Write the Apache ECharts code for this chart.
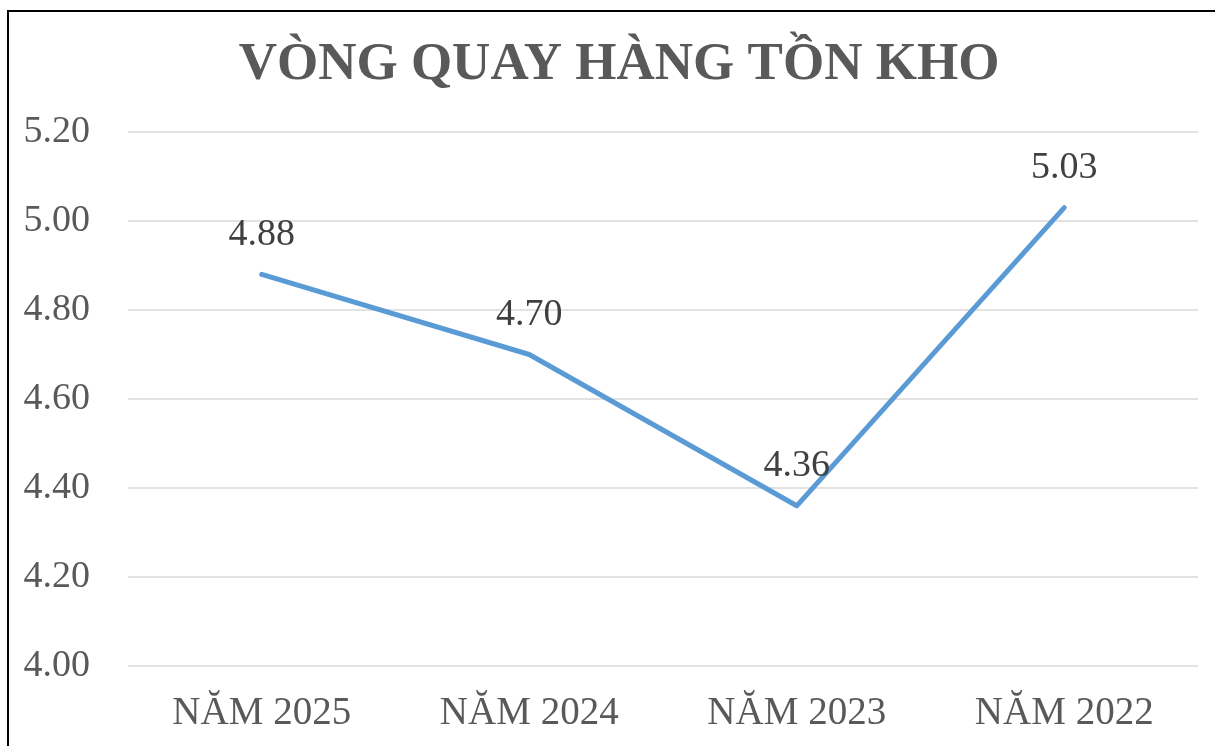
<!DOCTYPE html>
<html>
<head>
<meta charset="utf-8">
<script src="https://cdn.jsdelivr.net/npm/echarts@6/dist/echarts.min.js"></script>
<style>
  html, body { margin: 0; padding: 0; background: #fff; }
  #chart { width: 1215px; height: 746px; }
</style>
</head>
<body>
<div id="chart"></div>
<script>
var titleText = 'VÒNG QUAY HÀNG TỒN KHO';
var categories = ['NĂM 2025', 'NĂM 2024', 'NĂM 2023', 'NĂM 2022'];
var values = [4.88, 4.70, 4.36, 5.03];

var serif = "'Liberation Serif', 'Times New Roman', serif";

var myChart = echarts.init(document.getElementById('chart'));
myChart.setOption({
  backgroundColor: '#fff',
  animation: false,
  graphic: [
    {
      type: 'rect',
      shape: { x: 8, y: 11, width: 1400, height: 900 },
      style: { fill: 'none', stroke: '#000', lineWidth: 2 },
      z: 100
    },
    {
      type: 'text',
      x: 619,
      y: 65,
      style: {
        text: titleText,
        fill: '#595959',
        font: 'bold 53px ' + serif,
        textAlign: 'center',
        textVerticalAlign: 'middle'
      }
    }
  ],
  grid: { left: 128, right: 17, top: 132, bottom: 80 },
  xAxis: {
    type: 'category',
    data: categories,
    boundaryGap: true,
    axisLine: { show: false },
    axisTick: { show: false },
    axisLabel: { color: '#595959', fontFamily: serif, fontSize: 39, margin: 28 }
  },
  yAxis: {
    type: 'value',
    min: 4.0,
    max: 5.2,
    interval: 0.2,
    axisLine: { show: false },
    axisTick: { show: false },
    splitLine: { lineStyle: { color: '#d9d9d9', width: 1.5 } },
    axisLabel: {
      color: '#595959', fontFamily: serif, fontSize: 38, margin: 38,
      formatter: function (v) { return v.toFixed(2); }
    }
  },
  series: [{
    type: 'line',
    data: values,
    showSymbol: true,
    symbol: 'circle',
    symbolSize: 1,
    itemStyle: { color: '#5B9BD5' },
    lineStyle: { color: '#5B9BD5', width: 5, cap: 'round', join: 'round' },
    label: {
      show: true,
      position: 'top',
      distance: 20,
      color: '#404040',
      fontFamily: serif,
      fontSize: 38,
      formatter: function (p) { return p.value.toFixed(2); }
    }
  }]
});
</script>
</body>
</html>
